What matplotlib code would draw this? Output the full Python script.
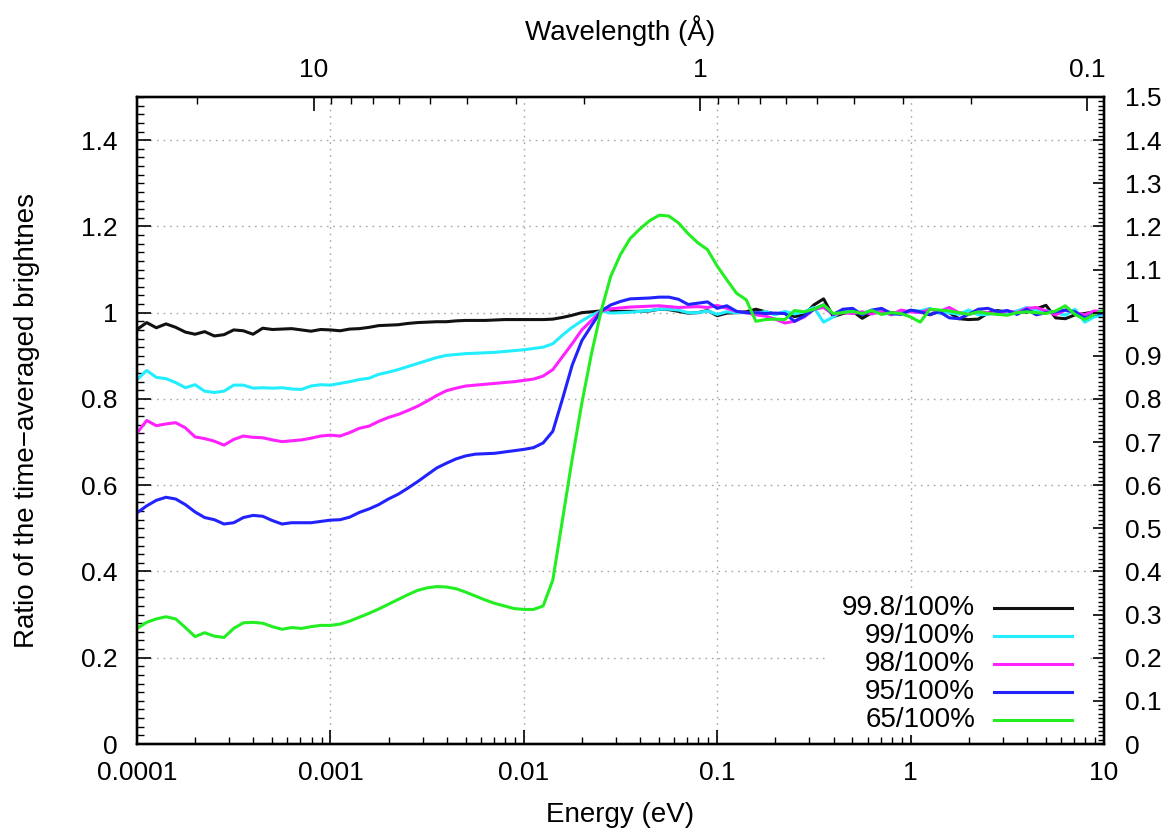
import numpy as np
import matplotlib
matplotlib.use("Agg")
import matplotlib.pyplot as plt
from matplotlib.ticker import FixedLocator, FixedFormatter, NullFormatter, LogLocator
from matplotlib.patches import Rectangle

plt.rcParams['font.family'] = ['Liberation Sans', 'DejaVu Sans']
plt.rcParams['font.size'] = 19

# ---------------- data ----------------
energy_eV = np.logspace(-4, 1, 101)

series_labels = ["99.8/100%", "99/100%", "98/100%", "95/100%", "65/100%"]
series_colors = ["#111111", "#22eeff", "#ff22ff", "#2222ff", "#22ee22"]

ratio_998 = [
    .961, .977, .965, .974, .966, .955, .950, .956, .946, .949,
    .960, .958, .950, .964, .961, .962, .963, .960, .957, .961,
    .960, .958, .962, .963, .966, .970, .971, .972, .975, .977,
    .978, .979, .979, .981, .982, .982, .982, .983, .984, .984,
    .984, .984, .984, .985, .989, .994, 1.000, 1.002, 1.004, 1.003,
    1.003, 1.003, 1.003, 1.004, 1.008, 1.007, 1.003, .999, 1.000, 1.005,
    .993, .999, 1.000, 1.002, 1.008, 1.002, .997, 1.000, .991, .995,
    1.018, 1.032, .991, .998, 1.003, .987, 1.000, 1.004, 1.000, .998,
    1.005, 1.002, .995, 1.004, 1.000, .986, .984, .985, .999, 1.005,
    1.000, 1.003, 1.001, 1.009, 1.017, .988, .986, .995, .998, 1.002,
    .998]

ratio_99 = [
    .845, .866, .850, .847, .838, .826, .833, .818, .815, .818,
    .832, .832, .825, .826, .825, .826, .823, .822, .830, .833,
    .832, .836, .840, .845, .848, .857, .862, .868, .875, .882,
    .889, .896, .901, .903, .905, .906, .907, .908, .910, .912,
    .914, .917, .920, .928, .948, .966, .981, .994, 1.004, .999,
    1.000, 1.001, 1.003, 1.005, 1.008, 1.008, 1.006, 1.000, 1.000, 1.004,
    .996, 1.002, 1.000, 1.000, .998, 1.003, .995, 1.003, .997, 1.002,
    1.012, .978, .990, 1.005, 1.004, .998, 1.006, 1.002, .995, 1.000,
    1.004, 1.004, 1.010, .998, 1.000, .996, 1.006, .995, .996, 1.002,
    1.000, 1.004, 1.012, 1.006, 1.004, 1.000, .994, 1.008, .978, .990,
    .996]

ratio_98 = [
    .721, .750, .738, .742, .745, .733, .712, .708, .702, .693,
    .706, .714, .711, .710, .705, .701, .703, .705, .709, .714,
    .716, .714, .722, .732, .737, .748, .757, .764, .773, .783,
    .795, .808, .819, .825, .830, .832, .834, .836, .838, .840,
    .843, .846, .853, .868, .898, .928, .960, .982, 1.004, 1.009,
    1.011, 1.013, 1.014, 1.015, 1.016, 1.014, 1.012, 1.013, 1.014, 1.012,
    1.017, 1.010, 1.003, 1.000, .995, .992, .985, .976, .980, .990,
    1.008, 1.012, .996, 1.000, .998, 1.002, .997, 1.003, .995, 1.006,
    1.002, 1.000, 1.008, 1.003, 1.012, 1.000, .996, 1.002, 1.000, .997,
    1.004, 1.000, 1.010, 1.012, 1.004, .995, 1.006, 1.000, .995, 1.004,
    1.002]

ratio_95 = [
    .536, .552, .565, .572, .568, .555, .538, .525, .520, .510,
    .513, .525, .530, .528, .518, .510, .513, .513, .513, .516,
    .519, .520, .526, .537, .545, .555, .568, .579, .593, .608,
    .624, .640, .651, .661, .668, .672, .673, .674, .677, .680,
    .683, .687, .698, .725, .800, .878, .935, .970, 1.004, 1.018,
    1.026, 1.032, 1.033, 1.034, 1.036, 1.036, 1.031, 1.019, 1.022, 1.025,
    1.010, 1.016, 1.003, 1.000, 1.000, .998, .999, .998, .980, .992,
    1.008, 1.018, .996, 1.008, 1.010, .995, 1.006, 1.010, .998, .996,
    1.006, 1.002, .996, 1.002, .988, .986, .996, 1.008, 1.010, 1.002,
    1.005, .996, 1.008, .995, 1.000, 1.002, 1.006, 1.002, .988, .996,
    1.000]

ratio_65 = [
    .268, .282, .290, .295, .290, .270, .249, .258, .250, .247,
    .268, .281, .282, .280, .272, .266, .270, .268, .272, .275,
    .275, .278, .285, .294, .303, .313, .324, .335, .346, .356,
    .362, .365, .364, .360, .352, .343, .334, .326, .320, .314,
    .312, .312, .320, .380, .520, .660, .790, .905, 1.004, 1.085,
    1.135, 1.172, 1.194, 1.213, 1.226, 1.224, 1.208, 1.183, 1.162, 1.146,
    1.108, 1.076, 1.045, 1.030, .980, .984, .985, .984, 1.005, 1.002,
    1.008, 1.018, .998, 1.000, 1.003, .998, 1.005, .996, 1.000, .998,
    .990, .978, 1.008, 1.006, 1.004, 1.000, .996, 1.002, .998, .996,
    .994, 1.000, 1.002, 1.000, .998, 1.004, 1.016, .996, .984, .996,
    1.006]

all_series = [ratio_998, ratio_99, ratio_98, ratio_95, ratio_65]

left_ticks = [0, 0.2, 0.4, 0.6, 0.8, 1.0, 1.2, 1.4]
left_ticklabels = ["0", "0.2", "0.4", "0.6", "0.8", "1", "1.2", "1.4"]
right_ticks = [round(0.1 * k, 1) for k in range(16)]
right_ticklabels = ["0", "0.1", "0.2", "0.3", "0.4", "0.5", "0.6", "0.7", "0.8",
                    "0.9", "1", "1.1", "1.2", "1.3", "1.4", "1.5"]
energy_ticks = [1e-4, 1e-3, 1e-2, 1e-1, 1, 10]
energy_ticklabels = ["0.0001", "0.001", "0.01", "0.1", "1", "10"]
wavelength_major = [10, 1, 0.1]
wavelength_major_labels = ["10", "1", "0.1"]

E_LAMBDA = 0.0818  # eV*A^2, neutron E = 0.0818 / lambda^2
LABEL_SIZE = 20

# ---------------- figure ----------------
fig = plt.figure(figsize=(11.76, 8.33), dpi=100)
ax = fig.add_axes([137/1176, 1 - 744/833, (1104-137)/1176, (744-97)/833])

for vals, col in zip(all_series, series_colors):
    ax.plot(energy_eV, vals, color=col, lw=2.2, zorder=3, solid_joinstyle='round')

ax.set_xscale('log')
ax.set_xlim(1e-4, 10)
ax.set_ylim(0, 1.5)

ax.xaxis.set_major_locator(FixedLocator(energy_ticks))
ax.xaxis.set_major_formatter(FixedFormatter(energy_ticklabels))
ax.xaxis.set_minor_locator(LogLocator(base=10, subs=np.arange(2, 10), numticks=100))
ax.xaxis.set_minor_formatter(NullFormatter())

ax.yaxis.set_major_locator(FixedLocator(left_ticks))
ax.yaxis.set_major_formatter(FixedFormatter(left_ticklabels))
ax.yaxis.set_minor_locator(FixedLocator([0.02 * k for k in range(76)]))

ax.tick_params(which='major', direction='in', length=10, width=1.2,
               top=False, right=False)
ax.tick_params(which='minor', direction='in', length=5, width=1.0,
               top=False, right=False)
ax.tick_params(axis='x', which='major', pad=12)
ax.tick_params(axis='y', which='major', pad=14)

ax.set_axisbelow(True)
ax.grid(True, which='major', axis='both', color='#a8a8a8',
        linestyle=(0, (1.2, 3.5)), linewidth=1.0)

for sp in ax.spines.values():
    sp.set_linewidth(1.6)

ax.set_xlabel("Energy (eV)", fontsize=LABEL_SIZE)
ax.xaxis.set_label_coords(0.5, (744 - 802) / 647)
ax.set_ylabel("Ratio of the time\u2212averaged brightnes", fontsize=LABEL_SIZE)
ax.yaxis.set_label_coords((40 - 137) / 967, 0.5)

# right axis
axr = ax.twinx()
axr.set_ylim(0, 1.5)
axr.yaxis.set_major_locator(FixedLocator(right_ticks))
axr.yaxis.set_major_formatter(FixedFormatter(right_ticklabels))
axr.yaxis.set_minor_locator(FixedLocator([0.01 * k for k in range(151)]))
axr.tick_params(which='major', direction='in', length=8, width=1.2, pad=15)
axr.tick_params(which='minor', direction='in', length=4, width=1.0)
for sp in axr.spines.values():
    sp.set_linewidth(1.6)

# top axis: wavelength
axt = ax.twiny()
axt.set_xscale('log')
axt.set_xlim(1e-4, 10)
wl_minor = [m * 10.0 ** k for k in range(-2, 2) for m in range(2, 10)]
wl_minor_E = [E_LAMBDA / w ** 2 for w in wl_minor if 1e-4 <= E_LAMBDA / w ** 2 <= 10]
axt.xaxis.set_major_locator(FixedLocator([E_LAMBDA / w ** 2 for w in wavelength_major]))
axt.xaxis.set_major_formatter(FixedFormatter(wavelength_major_labels))
axt.xaxis.set_minor_locator(FixedLocator(wl_minor_E))
axt.xaxis.set_minor_formatter(NullFormatter())
axt.tick_params(which='major', direction='in', length=10, width=1.2, pad=11)
axt.tick_params(which='minor', direction='in', length=5, width=1.0)
axt.set_xlabel("Wavelength (\u00c5)", fontsize=LABEL_SIZE)
axt.xaxis.set_label_coords(0.5, (744 - 40) / 647)
for sp in axt.spines.values():
    sp.set_linewidth(1.6)

# legend (gnuplot style: right-aligned text, sample to the right, opaque box)
ax.add_patch(Rectangle((0.7115, 0.014), 0.272, 0.219, transform=ax.transAxes,
                       facecolor='white', edgecolor='none', zorder=1))
row_y = [(744 - y) / 647 for y in (608, 636, 664, 692, 720)]
for lab, col, yy in zip(series_labels, series_colors, row_y):
    ax.text(0.8666, yy, lab, transform=ax.transAxes, ha='right', va='center',
            fontsize=LABEL_SIZE, zorder=4)
    ax.plot([0.886, 0.967], [yy, yy], transform=ax.transAxes, color=col,
            lw=2.2, zorder=4, clip_on=False)

fig.savefig("out.png", dpi=100)
